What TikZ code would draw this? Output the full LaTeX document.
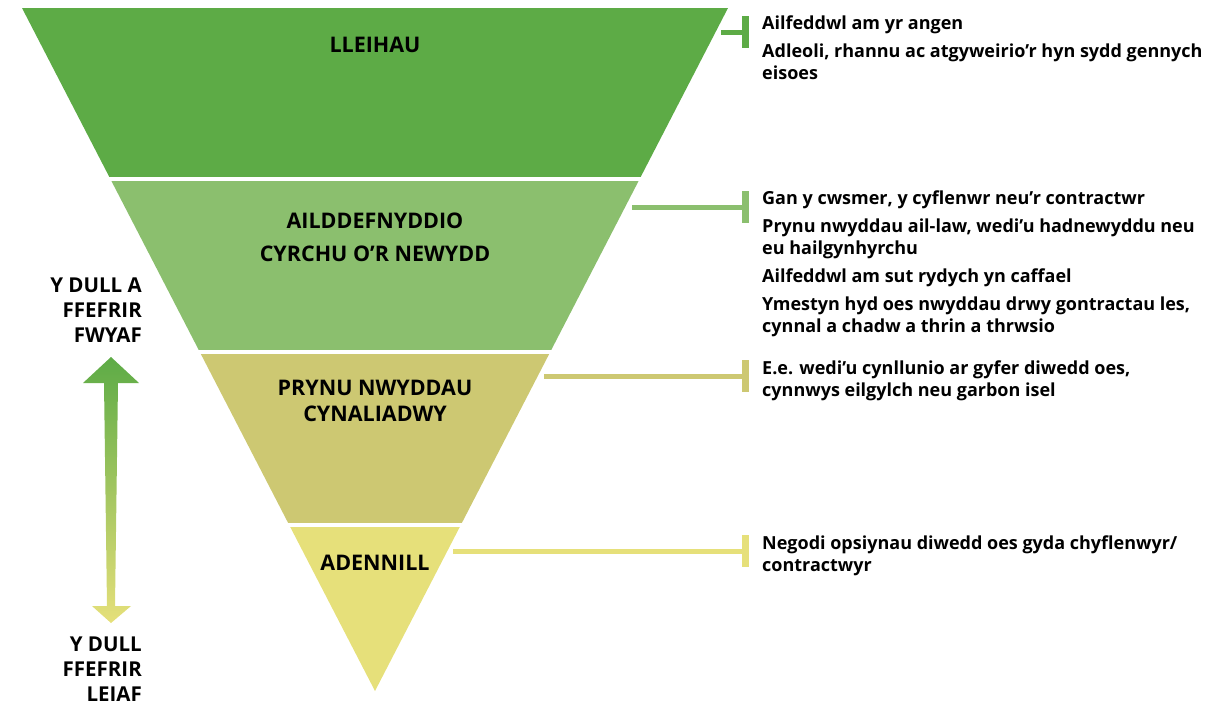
\documentclass[tikz,border=0pt]{standalone}
\usepackage{fontspec}
\setmainfont{Open Sans}
\usetikzlibrary{arrows.meta,positioning}
\definecolor{lleihau}{HTML}{5DAB46}
\definecolor{ailddef}{HTML}{8BBF6E}
\definecolor{prynu}{HTML}{CDC872}
\definecolor{adennill}{HTML}{E6E07A}
\definecolor{olive}{HTML}{ABB43F}

\begin{document}
\begin{tikzpicture}[x=1pt,y=-1pt,
    band label/.style={font=\fontsize{21.5}{26}\selectfont\bfseries,align=center,inner sep=0pt},
    note/.style={font=\fontsize{18}{22}\selectfont\bfseries,align=left,anchor=north west,inner sep=0pt},
    side label/.style={font=\fontsize{20.5}{25}\selectfont\bfseries,align=right,anchor=east,inner sep=0pt},
    link/.style={line width=5pt,-{Bar[width=32pt,line width'=7pt]}}]

  \useasboundingbox (0,0) rectangle (1223,705);
  % funnel cut into four bands
  \begin{scope}
    \clip (22,8) -- (728,8) -- (375,691) -- cycle;
    \fill[lleihau]  (0,0)   rectangle (800,177);
    \fill[ailddef]  (0,181) rectangle (800,350);
    \fill[prynu]    (0,354) rectangle (800,523);
    \fill[adennill] (0,527) rectangle (800,700);
  \end{scope}

  \node[band label] (lleihau) at (375,45) {LLEIHAU};
  \node[band label] (ailddef) at (375,237) {AILDDEFNYDDIO\\[7pt]CYRCHU O’R NEWYDD};
  \node[band label] (prynu) at (375,401) {PRYNU NWYDDAU\\CYNALIADWY};
  \node[band label] (adennill) at (375,563) {ADENNILL};

  \node[note] (n1) at (762,16) {Ailfeddwl am yr angen\\[6pt]Adleoli, rhannu ac atgyweirio’r hyn sydd gennych\\eisoes};
  \node[note] (n2) at (762,191) {Gan y cwsmer, y cyflenwr neu’r contractwr\\[6pt]Prynu nwyddau ail-law, wedi’u hadnewyddu neu\\eu hailgynhyrchu\\[6pt]Ailfeddwl am sut rydych yn caffael\\[6pt]Ymestyn hyd oes nwyddau drwy gontractau les,\\cynnal a chadw a thrin a thrwsio};
  \node[note] (n3) at (762,361) {E.e. wedi’u cynllunio ar gyfer diwedd oes,\\cynnwys eilgylch neu garbon isel};
  \node[note] (n4) at (762,536) {Negodi opsiynau diwedd oes gyda chyflenwyr/\\contractwyr};

  \coordinate (s1) at (721,32);  \coordinate (e1) at (749,32);
  \coordinate (s2) at (632,207); \coordinate (e2) at (749,207);
  \coordinate (s3) at (544,376); \coordinate (e3) at (749,376);
  \coordinate (s4) at (453,551); \coordinate (e4) at (749,551);
  \draw[link,lleihau]  (s1) -- (e1);
  \draw[link,ailddef]  (s2) -- (e2);
  \draw[link,prynu]    (s3) -- (e3);
  \draw[link,adennill] (s4) -- (e4);

  % scale arrow
  \node[side label] (fwyaf) at (142,310) {Y DULL A\\FFEFRIR\\FWYAF};
  \node[side label] (leiaf) at (142,669) {Y DULL\\FFEFRIR\\LEIAF};
  \shade[top color=lleihau,middle color=olive,bottom color=adennill]
    (111,357) -- (139,383) -- (118,383) -- (115,606) -- (131,606) -- (111,623)
    -- (92,606) -- (107,606) -- (104,383) -- (83,383) -- cycle;
\end{tikzpicture}
\end{document}
